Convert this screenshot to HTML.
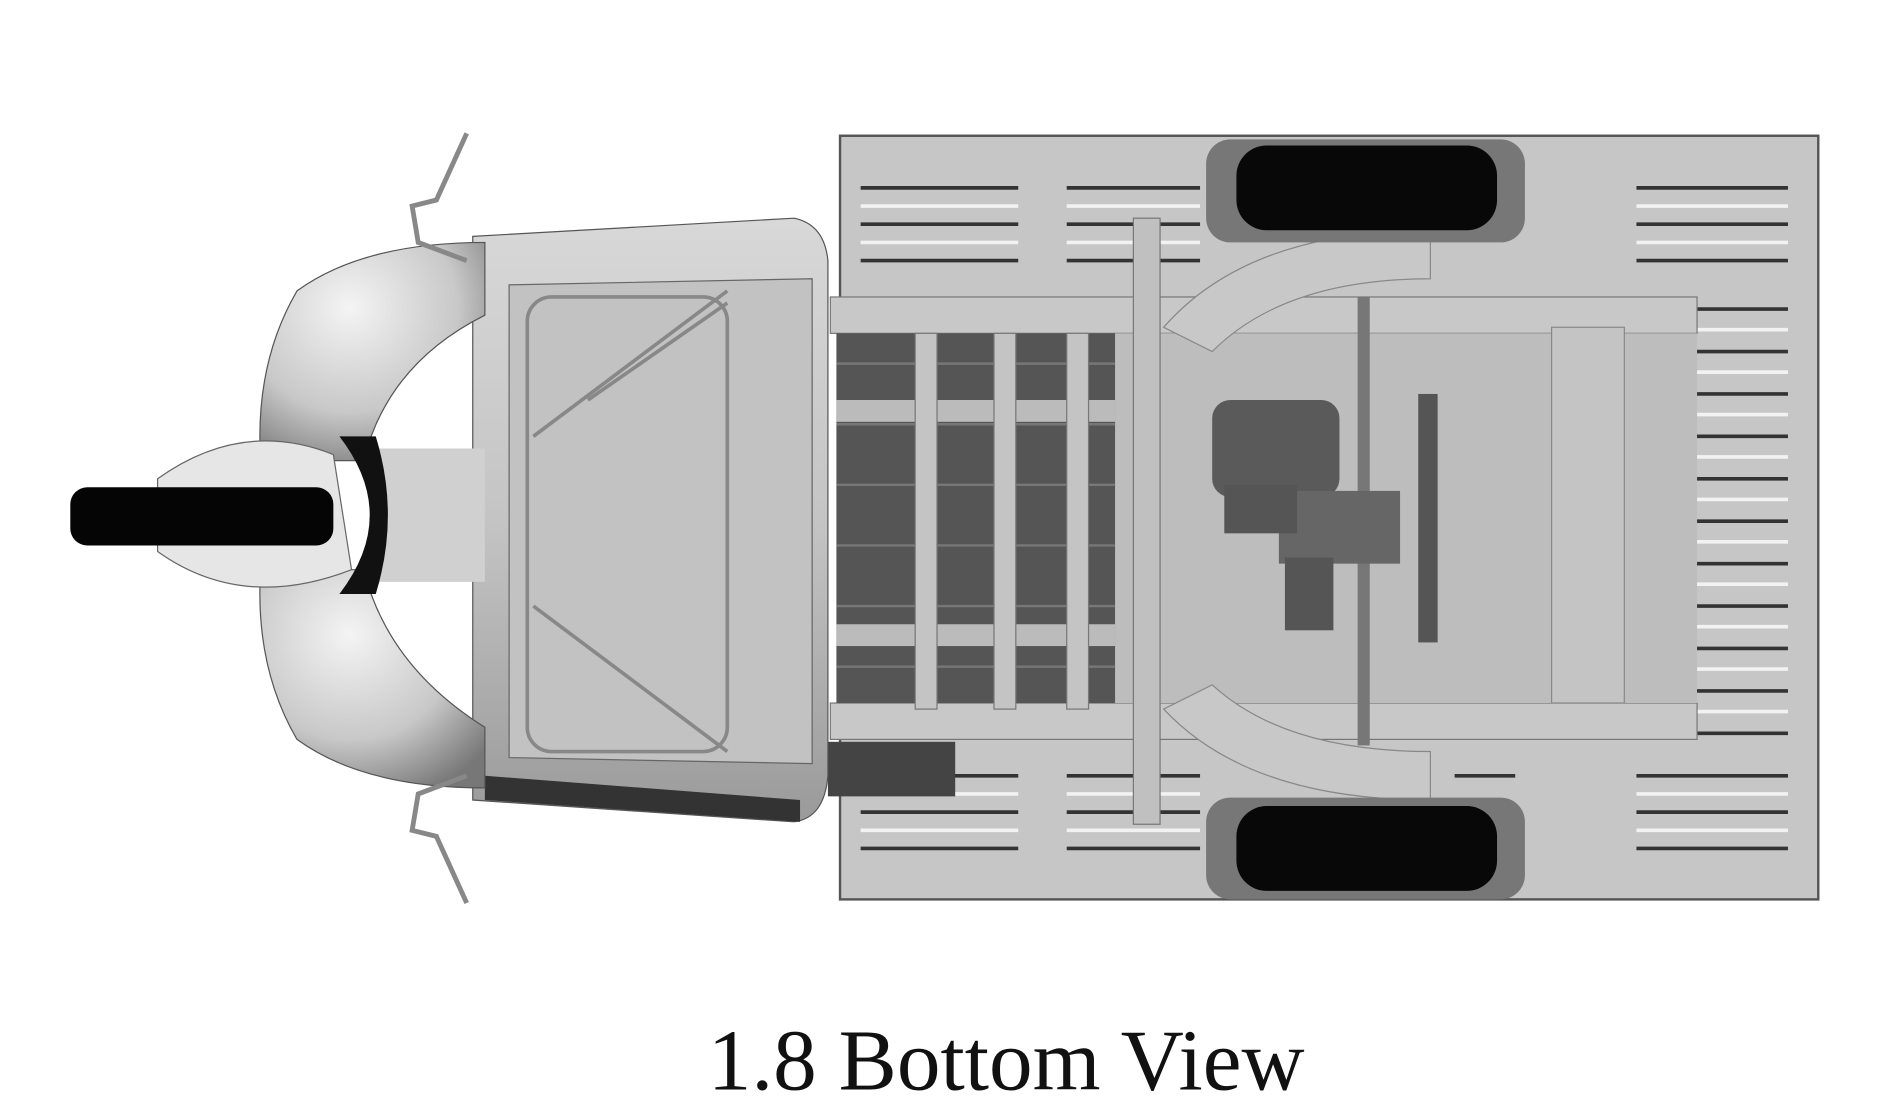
<!DOCTYPE html>
<html><head><meta charset="utf-8"><style>
html,body{margin:0;padding:0;background:#fff;}
svg{display:block}
</style></head><body>
<svg width="1891" height="1120" viewBox="0 0 1560 924" preserveAspectRatio="none" xmlns="http://www.w3.org/2000/svg">
<defs>
<linearGradient id="cab" x1="0" y1="0" x2="0" y2="1"><stop offset="0" stop-color="#d8d8d8"/><stop offset="0.5" stop-color="#c4c4c4"/><stop offset="1" stop-color="#9a9a9a"/></linearGradient>
<radialGradient id="fair" cx="0.4" cy="0.3" r="0.8"><stop offset="0" stop-color="#f4f4f4"/><stop offset="0.6" stop-color="#c8c8c8"/><stop offset="1" stop-color="#777"/></radialGradient>
</defs>
<rect width="1560" height="924" fill="#fff"/>
<rect x="693" y="112" width="807" height="630" fill="#c6c6c6" stroke="#555" stroke-width="2"/>
<g stroke="#333" stroke-width="3">
<line x1="710" y1="155" x2="840" y2="155"/><line x1="880" y1="155" x2="990" y2="155"/>
<line x1="710" y1="185" x2="840" y2="185"/><line x1="880" y1="185" x2="990" y2="185"/>
<line x1="710" y1="215" x2="840" y2="215"/><line x1="880" y1="215" x2="990" y2="215"/>
<line x1="710" y1="640" x2="840" y2="640"/><line x1="880" y1="640" x2="990" y2="640"/>
<line x1="710" y1="670" x2="840" y2="670"/><line x1="880" y1="670" x2="990" y2="670"/>
<line x1="710" y1="700" x2="840" y2="700"/><line x1="880" y1="700" x2="990" y2="700"/>
</g>
<g stroke="#f2f2f2" stroke-width="3">
<line x1="710" y1="170" x2="840" y2="170"/><line x1="880" y1="170" x2="990" y2="170"/>
<line x1="710" y1="200" x2="840" y2="200"/><line x1="880" y1="200" x2="990" y2="200"/>
<line x1="710" y1="655" x2="840" y2="655"/><line x1="880" y1="655" x2="990" y2="655"/>
<line x1="710" y1="685" x2="840" y2="685"/><line x1="880" y1="685" x2="990" y2="685"/>
</g>
<g stroke="#333" stroke-width="3">
<line x1="1350" y1="155" x2="1475" y2="155"/><line x1="1350" y1="185" x2="1475" y2="185"/><line x1="1350" y1="215" x2="1475" y2="215"/>
<line x1="1350" y1="255" x2="1475" y2="255"/><line x1="1350" y1="290" x2="1475" y2="290"/><line x1="1350" y1="325" x2="1475" y2="325"/>
<line x1="1350" y1="360" x2="1475" y2="360"/><line x1="1350" y1="395" x2="1475" y2="395"/><line x1="1350" y1="430" x2="1475" y2="430"/>
<line x1="1350" y1="465" x2="1475" y2="465"/><line x1="1350" y1="500" x2="1475" y2="500"/><line x1="1350" y1="535" x2="1475" y2="535"/>
<line x1="1350" y1="570" x2="1475" y2="570"/><line x1="1350" y1="605" x2="1475" y2="605"/><line x1="1350" y1="640" x2="1475" y2="640"/>
<line x1="1350" y1="670" x2="1475" y2="670"/><line x1="1350" y1="700" x2="1475" y2="700"/>
<line x1="1200" y1="155" x2="1250" y2="155"/><line x1="1200" y1="185" x2="1250" y2="185"/><line x1="1200" y1="640" x2="1250" y2="640"/><line x1="1200" y1="670" x2="1250" y2="670"/><line x1="1200" y1="700" x2="1250" y2="700"/>
</g>
<g stroke="#f2f2f2" stroke-width="3">
<line x1="1350" y1="170" x2="1475" y2="170"/><line x1="1350" y1="200" x2="1475" y2="200"/><line x1="1350" y1="272" x2="1475" y2="272"/>
<line x1="1350" y1="307" x2="1475" y2="307"/><line x1="1350" y1="342" x2="1475" y2="342"/><line x1="1350" y1="377" x2="1475" y2="377"/>
<line x1="1350" y1="412" x2="1475" y2="412"/><line x1="1350" y1="447" x2="1475" y2="447"/><line x1="1350" y1="482" x2="1475" y2="482"/>
<line x1="1350" y1="517" x2="1475" y2="517"/><line x1="1350" y1="552" x2="1475" y2="552"/><line x1="1350" y1="587" x2="1475" y2="587"/>
<line x1="1350" y1="655" x2="1475" y2="655"/><line x1="1350" y1="685" x2="1475" y2="685"/>
</g>
<rect x="685" y="245" width="715" height="30" fill="#c8c8c8" stroke="#777"/>
<rect x="685" y="580" width="715" height="30" fill="#c8c8c8" stroke="#777"/>
<rect x="690" y="275" width="230" height="305" fill="#555"/>
<g stroke="#777" stroke-width="2"><line x1="690" y1="300" x2="920" y2="300"/><line x1="690" y1="350" x2="920" y2="350"/><line x1="690" y1="400" x2="920" y2="400"/><line x1="690" y1="450" x2="920" y2="450"/><line x1="690" y1="500" x2="920" y2="500"/><line x1="690" y1="550" x2="920" y2="550"/></g>
<rect x="690" y="330" width="230" height="18" fill="#bbb"/>
<rect x="690" y="515" width="230" height="18" fill="#bbb"/>
<rect x="755" y="275" width="18" height="310" fill="#c4c4c4" stroke="#777"/>
<rect x="820" y="275" width="18" height="310" fill="#c4c4c4" stroke="#777"/>
<rect x="880" y="275" width="18" height="310" fill="#c4c4c4" stroke="#777"/>
<rect x="920" y="275" width="480" height="305" fill="#bdbdbd"/>
<rect x="935" y="180" width="22" height="500" fill="#c0c0c0" stroke="#777"/>
<rect x="1120" y="245" width="10" height="370" fill="#777"/>
<rect x="1170" y="325" width="16" height="205" fill="#555"/>
<rect x="1000" y="330" width="105" height="80" rx="15" fill="#5a5a5a"/>
<rect x="1055" y="405" width="100" height="60" fill="#666"/>
<rect x="1010" y="400" width="60" height="40" fill="#555"/>
<rect x="1060" y="460" width="40" height="60" fill="#555"/>
<rect x="1280" y="270" width="60" height="310" fill="#c4c4c4" stroke="#888"/>
<path d="M960 270 Q1030 190 1180 190 L1180 230 Q1060 230 1000 290 Z" fill="#c8c8c8" stroke="#888"/>
<path d="M960 585 Q1030 660 1180 660 L1180 620 Q1060 620 1000 565 Z" fill="#c8c8c8" stroke="#888"/>
<rect x="995" y="115" width="263" height="85" rx="20" fill="#777"/>
<rect x="1020" y="120" width="215" height="70" rx="25" fill="#080808"/>
<rect x="995" y="658" width="263" height="84" rx="20" fill="#777"/>
<rect x="1020" y="665" width="215" height="70" rx="25" fill="#080808"/>
<rect x="683" y="612" width="105" height="45" fill="#444"/>
<path d="M390 195 L655 180 Q680 185 683 215 L683 640 Q680 675 655 678 L390 660 Z" fill="url(#cab)" stroke="#555"/>
<path d="M420 235 L670 230 L670 630 L420 625 Z" fill="#c2c2c2" stroke="#666"/>
<path d="M400 640 L660 660 L660 678 L400 660 Z" fill="#333"/>
<g stroke="#888" stroke-width="3" fill="none"><rect x="435" y="245" width="165" height="375" rx="20"/><line x1="440" y1="360" x2="600" y2="240"/><line x1="440" y1="500" x2="600" y2="620"/><line x1="485" y1="330" x2="600" y2="250"/></g>
<path d="M400 200 Q300 200 245 240 Q210 300 215 380 L300 380 Q320 300 400 260 Z" fill="url(#fair)" stroke="#555"/>
<path d="M400 650 Q300 650 245 610 Q210 550 215 470 L300 470 Q320 550 400 600 Z" fill="url(#fair)" stroke="#555"/>
<path d="M300 370 L400 370 L400 480 L300 480 Q320 425 300 370 Z" fill="#d0d0d0"/>
<path d="M280 360 Q330 425 280 490 L310 490 Q330 425 310 360 Z" fill="#111"/>
<path d="M130 395 Q200 345 275 375 L290 470 Q200 505 130 455 Z" fill="#e6e6e6" stroke="#666"/>
<rect x="58" y="402" width="217" height="48" rx="14" fill="#050505"/>
<g stroke="#888" stroke-width="4" fill="none"><path d="M385 110 L360 165 L340 170 L345 200 L385 215"/><path d="M385 745 L360 690 L340 685 L345 655 L385 640"/></g>
<text x="830" y="899" text-anchor="middle" font-family="Liberation Serif, serif" font-size="72" fill="#111">1.8 Bottom View</text>
</svg>
</body></html>
